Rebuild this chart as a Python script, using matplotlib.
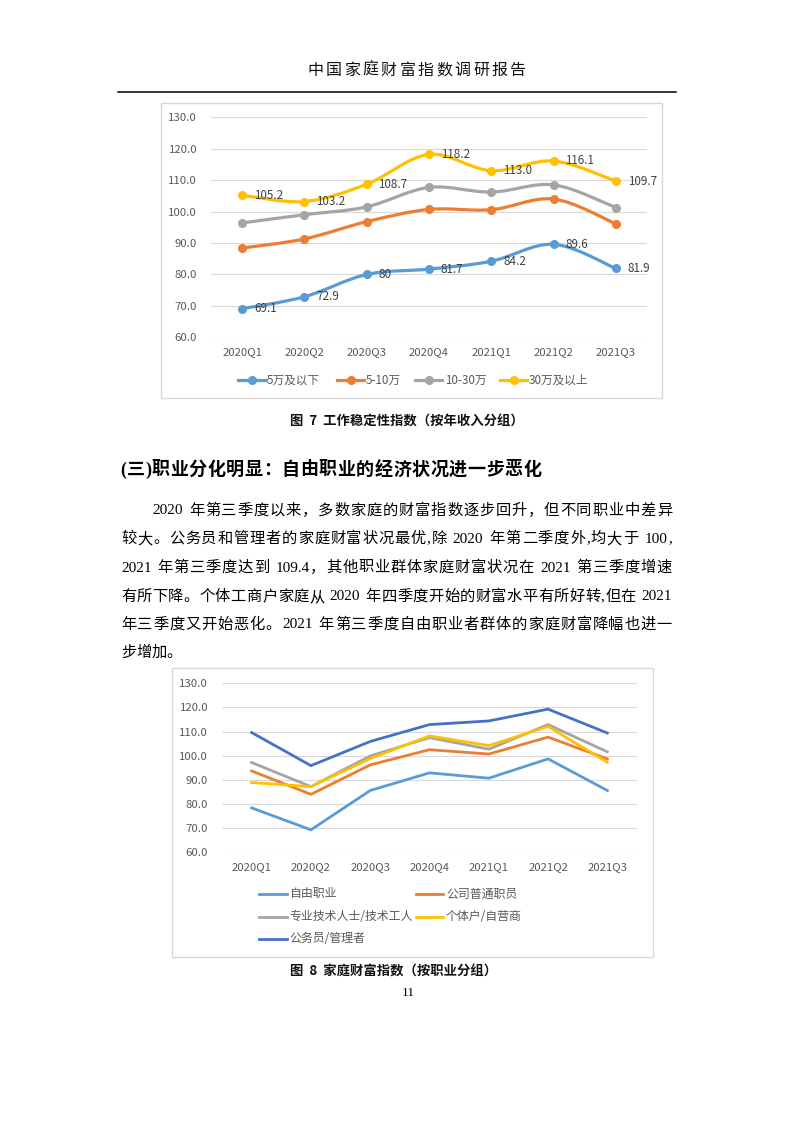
import re
import matplotlib
matplotlib.use("Agg")
import matplotlib.pyplot as plt
from matplotlib.path import Path
from matplotlib.patches import PathPatch, Rectangle
from matplotlib.lines import Line2D

plt.rcParams['font.family'] = ['Noto Sans CJK SC', 'DejaVu Sans']

W, H = 793, 1122

# ---------------- data ----------------
quarters = ['2020Q1', '2020Q2', '2020Q3', '2020Q4', '2021Q1', '2021Q2', '2021Q3']
yticks = [60, 70, 80, 90, 100, 110, 120, 130]

inc_names = ['5万及以下', '5-10万', '10-30万', '30万及以上']
inc_low = [69.1, 72.9, 80, 81.7, 84.2, 89.6, 81.9]
inc_mid = [88.4, 91.3, 96.8, 100.7, 100.6, 104.0, 96.1]
inc_upper = [96.4, 99.0, 101.5, 107.7, 106.2, 108.5, 101.3]
inc_high = [105.2, 103.2, 108.7, 118.2, 113.0, 116.1, 109.7]
inc_labels_low = ['69.1', '72.9', '80', '81.7', '84.2', '89.6', '81.9']
inc_labels_high = ['105.2', '103.2', '108.7', '118.2', '113.0', '116.1', '109.7']

occ_names = ['自由职业', '公司普通职员', '专业技术人士/技术工人', '个体户/自营商', '公务员/管理者']
occ_free = [78.4, 69.3, 85.6, 92.9, 90.7, 98.7, 85.6]
occ_staff = [93.7, 84.0, 96.2, 102.5, 100.7, 107.7, 98.7]
occ_tech = [97.2, 87.2, 99.9, 107.5, 102.7, 112.9, 101.6]
occ_self = [88.9, 87.2, 98.8, 108.2, 104.2, 112.1, 97.3]
occ_civil = [109.6, 95.9, 105.9, 112.9, 114.4, 119.3, 109.4]

header = '中国家庭财富指数调研报告'
caption7 = '图  7  工作稳定性指数（按年收入分组）'
heading = '(三)职业分化明显：自由职业的经济状况进一步恶化'
body_lines = [
    '2020 年第三季度以来，多数家庭的财富指数逐步回升，但不同职业中差异',
    '较大。公务员和管理者的家庭财富状况最优,除 2020 年第二季度外,均大于 100,',
    '2021 年第三季度达到 109.4，其他职业群体家庭财富状况在 2021 第三季度增速',
    '有所下降。个体工商户家庭从 2020 年四季度开始的财富水平有所好转,但在 2021',
    '年三季度又开始恶化。2021 年第三季度自由职业者群体的家庭财富降幅也进一',
    '步增加。',
]
caption8 = '图  8  家庭财富指数（按职业分组）'
page_no = '11'

# ---------------- styles ----------------
C_BLUE, C_ORANGE, C_GRAY, C_GOLD, C_DBLUE = '#5B9BD5', '#ED7D31', '#A5A5A5', '#FFC000', '#4472C4'
inc_colors = [C_BLUE, C_ORANGE, C_GRAY, C_GOLD]
occ_colors = [C_BLUE, C_ORANGE, C_GRAY, C_GOLD, C_DBLUE]
TICK_C = '#595959'
GRID_C = '#D9D9D9'

fig = plt.figure(figsize=(W / 100, H / 100), dpi=100)
fig.patch.set_facecolor('white')


def fx(px):
    return px / W


def fy(py):
    return 1 - py / H


renderer = fig.canvas.get_renderer()


def text_width(s, **kw):
    t = fig.text(0, 0, s, **kw)
    w = t.get_window_extent(renderer).width
    t.remove()
    return w


def draw_justified(s, x0, x1, y, justify=True, **kw):
    tokens = re.findall(r'[A-Za-z0-9.]+|\s|.', s)
    space_w = kw.get('fontsize', 11) * 100 / 72 * 0.3
    widths = [space_w if t == ' ' else text_width(t, **kw) for t in tokens]
    total = sum(widths)
    gaps = len(tokens) - 1
    extra = (x1 - x0 - total) / gaps if (justify and gaps > 0) else 0
    x = x0
    for t, w in zip(tokens, widths):
        if t != ' ':
            fig.text(fx(x), fy(y), t, va='center', ha='left', **kw)
        x += w + extra


# ---------------- page text ----------------
hdr_kw = dict(fontsize=11.5, color='#111111', family=['Noto Sans CJK SC'])
draw_justified(header, 307, 526, 70, **hdr_kw)
fig.add_artist(Line2D([fx(118), fx(676)], [fy(91.5), fy(91.5)], color='black', lw=1.1))

fig.text(fx(407), fy(422), caption7, ha='center', va='center', fontsize=9.6,
         fontweight='bold', color='#111111', family=['Noto Sans CJK SC'])

draw_justified(heading, 120, 541, 470, fontsize=13, fontweight='bold', color='#000000',
               family=['Liberation Serif', 'Noto Sans CJK SC'])

body_kw = dict(fontsize=11, color='#000000', family=['Liberation Serif', 'Noto Sans CJK SC'])
body_y = [511, 539, 568, 597, 625, 653]
for i, (line, yy) in enumerate(zip(body_lines, body_y)):
    x0 = 152 if i == 0 else 121
    draw_justified(line, x0, 672, yy, justify=(i < len(body_lines) - 1), **body_kw)

fig.text(fx(394), fy(972), caption8, ha='center', va='center', fontsize=9.6,
         fontweight='bold', color='#111111', family=['Noto Sans CJK SC'])
fig.text(fx(408), fy(993), page_no, ha='center', va='center', fontsize=9.5,
         color='#000000', family=['Liberation Serif'])

# ---------------- chart boxes ----------------
for (l, t, r, b) in [(161, 103, 662, 398), (172, 668, 653, 957)]:
    fig.add_artist(Rectangle((fx(l), fy(b)), fx(r) - fx(l), fy(t) - fy(b),
                             transform=fig.transFigure, fill=False, edgecolor=GRID_C, lw=1))


def style_axes(ax, ypad):
    ax.set_xlim(-0.5, len(quarters) - 0.5)
    ax.set_ylim(60, 130)
    ax.set_yticks(yticks)
    ax.set_yticklabels([f'{v:.1f}' for v in yticks])
    ax.set_xticks(range(len(quarters)))
    ax.set_xticklabels(quarters)
    ax.tick_params(axis='both', length=0, labelsize=8.2, labelcolor=TICK_C)
    ax.tick_params(axis='y', pad=ypad)
    ax.tick_params(axis='x', pad=7)
    for sp in ax.spines.values():
        sp.set_visible(False)
    ax.grid(axis='y', color=GRID_C, lw=0.8)
    ax.set_axisbelow(True)
    ax.patch.set_alpha(0)
    for lab in ax.get_xticklabels() + ax.get_yticklabels():
        lab.set_family(['Noto Sans CJK SC'])


def smooth_path(xs, ys):
    pts = list(zip(xs, ys))
    verts = [pts[0]]
    codes = [Path.MOVETO]
    n = len(pts)
    for i in range(n - 1):
        p0 = pts[i - 1] if i > 0 else pts[i]
        p1 = pts[i]
        p2 = pts[i + 1]
        p3 = pts[i + 2] if i + 2 < n else pts[i + 1]
        c1 = (p1[0] + (p2[0] - p0[0]) / 6, p1[1] + (p2[1] - p0[1]) / 6)
        c2 = (p2[0] - (p3[0] - p1[0]) / 6, p2[1] - (p3[1] - p1[1]) / 6)
        verts += [c1, c2, p2]
        codes += [Path.CURVE4] * 3
    return Path(verts, codes)


# ---------------- chart 1 ----------------
ax1 = fig.add_axes([fx(211), fy(337.3), fx(647) - fx(211), fy(117.3) - fy(337.3)])
style_axes(ax1, 10)
xs = list(range(len(quarters)))
inc_series = [inc_low, inc_mid, inc_upper, inc_high]
for vals, col in zip(inc_series, inc_colors):
    ax1.add_patch(PathPatch(smooth_path(xs, vals), fill=False, edgecolor=col, lw=2.3,
                            capstyle='round', joinstyle='round', zorder=3))
    ax1.plot(xs, vals, linestyle='none', marker='o', markersize=5.5, color=col, zorder=4)
for vals, labs in [(inc_low, inc_labels_low), (inc_high, inc_labels_high)]:
    for x, v, s in zip(xs, vals, labs):
        ax1.annotate(s, (x, v), xytext=(8.5, 0), textcoords='offset points',
                     ha='left', va='center', fontsize=8.4, color='#404040',
                     family=['Noto Sans CJK SC'], zorder=5)

leg1 = [(238, 266, 267), (337, 364, 366), (415, 442, 445), (500, 527, 529)]
for (a, b, t), name, col in zip(leg1, inc_names, inc_colors):
    fig.add_artist(Line2D([fx(a), fx(b)], [fy(380), fy(380)], color=col, lw=2.3))
    fig.add_artist(Line2D([fx((a + b) / 2)], [fy(380)], color=col, marker='o', markersize=5.5))
    fig.text(fx(t), fy(380), name, ha='left', va='center', fontsize=8.4, color=TICK_C,
             family=['Noto Sans CJK SC'])

# ---------------- chart 2 ----------------
ax2 = fig.add_axes([fx(222), fy(852.3), fx(637) - fx(222), fy(683.3) - fy(852.3)])
style_axes(ax2, 10)
occ_series = [occ_free, occ_staff, occ_tech, occ_self, occ_civil]
for vals, col in zip(occ_series, occ_colors):
    ax2.plot(xs, vals, color=col, lw=2.0, solid_joinstyle='miter', zorder=3)

leg2 = [(259, 287, 289, 894), (416, 443, 446, 894), (259, 287, 289, 917),
        (416, 443, 446, 917), (259, 287, 289, 939)]
for (a, b, t, yy), name, col in zip(leg2, occ_names, occ_colors):
    fig.add_artist(Line2D([fx(a), fx(b)], [fy(yy), fy(yy)], color=col, lw=2.0))
    fig.text(fx(t), fy(yy), name, ha='left', va='center', fontsize=8.6, color=TICK_C,
             family=['Noto Sans CJK SC'])

fig.savefig('out.png', dpi=100, facecolor='white')
